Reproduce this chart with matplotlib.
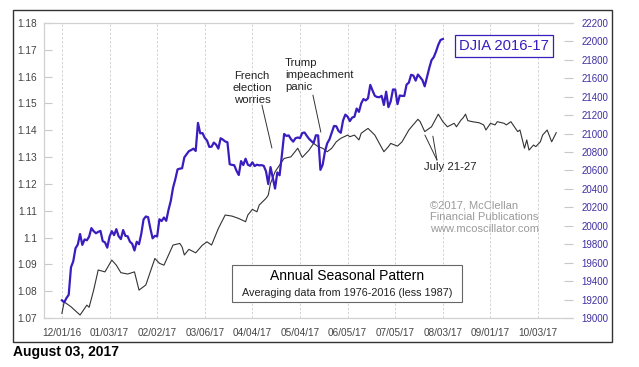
import matplotlib
matplotlib.use('Agg')
import matplotlib.pyplot as plt
from matplotlib.patches import Rectangle

plt.rcParams['font.family'] = ['Liberation Sans', 'DejaVu Sans']

# DJIA daily closes, 12/01/16 .. 08/03/17 (one value per trading day)
djia = [19192, 19170, 19216, 19252, 19550, 19615, 19757, 19796, 19911, 19793,
        19852, 19843, 19883, 19975, 19942, 19919, 19934, 19945, 19834, 19820,
        19763,
        19882, 19942, 19899, 19964, 19887, 19856, 19954, 19891, 19886, 19827,
        19805, 19732, 19827, 19800, 19913, 20069, 20101, 20094, 19971, 19864,
        19891, 19885, 20071, 20052, 20090, 20054, 20172, 20269, 20412, 20504,
        20612, 20620, 20624, 20743, 20776, 20810, 20822, 20837, 20812,
        21116, 21003, 21006, 20954, 20925, 20856, 20858, 20903, 20881, 20837,
        20950, 20935, 20915, 20906, 20668, 20661, 20657, 20597, 20551, 20702,
        20659, 20728, 20663,
        20650, 20689, 20648, 20663, 20656, 20658, 20651, 20592, 20453, 20637,
        20523, 20404, 20579, 20548, 20764, 20996, 20975, 20981, 20941,
        20913, 20950, 20958, 20951, 21007, 21012, 20976, 20943, 20919, 20897,
        20982, 20980, 20607, 20663, 20805, 20895, 20938, 21012, 21083, 21080,
        21029, 21009,
        21144, 21206, 21184, 21136, 21174, 21183, 21272, 21236, 21328, 21375,
        21360, 21384, 21529, 21467, 21410, 21397, 21395, 21410, 21311, 21455,
        21287, 21350,
        21479, 21478, 21320, 21414, 21409, 21409, 21532, 21553, 21638, 21630,
        21575, 21641, 21612, 21580, 21513, 21613, 21711, 21797, 21830, 21891,
        21964, 22016, 22026]

# annual seasonal pattern (trading day offset from 12/01, index value)
seasonal_day = [0, 1, 4, 8, 11, 12, 14, 16, 19, 22, 24, 26, 29, 32, 34, 37,
                41, 43, 45, 49, 52, 53, 54, 56, 59, 62, 64, 66, 69, 72, 75,
                78, 81, 82, 84, 86, 87, 90, 91, 92, 94, 97, 98, 101, 104, 106,
                109, 111, 113, 115, 117, 119, 121, 123, 126, 127, 129, 131,
                132, 135, 138, 142, 144, 145, 148, 150, 153, 157, 158, 160,
                162, 163, 166, 168, 170, 173, 174, 176, 177, 178, 179, 181,
                184, 186, 187, 189, 191, 192, 195, 196, 198, 201, 202, 204,
                205, 206, 208, 209, 211, 212, 214, 216, 218]
seasonal_val = [1.0717, 1.0760, 1.0742, 1.0711, 1.0748, 1.0740, 1.0804, 1.0879,
                1.0872, 1.0916, 1.0897, 1.0869, 1.0864, 1.0872, 1.0804, 1.0823,
                1.0922, 1.0904, 1.0897, 1.0972, 1.0978, 1.0965, 1.0935, 1.0956,
                1.0943, 1.0972, 1.0984, 1.0972, 1.1034, 1.1084, 1.1080, 1.1071,
                1.1059, 1.1084, 1.1105, 1.1096, 1.1121, 1.1146, 1.1158, 1.1202,
                1.1245, 1.1283, 1.1295, 1.1301, 1.1333, 1.1299, 1.1326, 1.1351,
                1.1339, 1.1333, 1.1320, 1.1333, 1.1357, 1.1370, 1.1382, 1.1376,
                1.1382, 1.1364, 1.1389, 1.1407, 1.1382, 1.1320, 1.1339, 1.1351,
                1.1341, 1.1357, 1.1401, 1.1441, 1.1432, 1.1395, 1.1407, 1.1413,
                1.1460, 1.1432, 1.1413, 1.1426, 1.1413, 1.1438, 1.1447, 1.1460,
                1.1436, 1.1432, 1.1428, 1.1420, 1.1401, 1.1426, 1.1420, 1.1432,
                1.1426, 1.1420, 1.1432, 1.1395, 1.1401, 1.1333, 1.1364, 1.1326,
                1.1345, 1.1339, 1.1357, 1.1382, 1.1401, 1.1357, 1.1391]

date_labels = ['12/01/16', '01/03/17', '02/02/17', '03/06/17', '04/04/17',
               '05/04/17', '06/05/17', '07/05/17', '08/03/17', '09/01/17',
               '10/03/17']
left_ticks = [1.07, 1.08, 1.09, 1.1, 1.11, 1.12, 1.13, 1.14, 1.15, 1.16, 1.17, 1.18]
right_ticks = list(range(19000, 22201, 200))

blue = '#3a1cbf'
grey_txt = '#444444'

fig = plt.figure(figsize=(6.39, 3.67), dpi=100)
W, H = 639, 367
ax = fig.add_axes([44 / W, 1 - 318 / H, (573 - 44) / W, (318 - 23) / H])
ax2 = ax.twinx()

# outer frame + date stamp
fig.patches.append(Rectangle((13 / W, 1 - 342 / H), (612 - 13) / W, (342 - 10) / H,
                             transform=fig.transFigure, fill=False,
                             edgecolor='#333333', linewidth=1.0))
fig.text(13 / W, 1 - 352 / H, 'August 03, 2017', fontsize=10, fontweight='bold',
         ha='left', va='center')

ax.plot(seasonal_day, seasonal_val, color='#333333', lw=0.8, zorder=2)
ax2.plot(range(len(djia)), djia, color=blue, lw=1.6, zorder=3)

ax.set_xlim(-7.9, 225.4)
ax.set_ylim(1.07, 1.18)
ax2.set_ylim(19000, 22200)

xt = [21 * i for i in range(len(date_labels))]
ax.set_xticks(xt)
ax.set_xticklabels(date_labels, fontsize=7.2, color=grey_txt)
ax.tick_params(axis='x', length=0, pad=7)
ax.grid(axis='x', color='#cfcfcf', linestyle=(0, (3, 2)), linewidth=0.6)

ax.set_yticks(left_ticks)
ax.set_yticklabels([f'{v:g}' for v in left_ticks], fontsize=7.3, color=grey_txt)
ax.tick_params(axis='y', direction='in', length=6, color='#c8c8c8', pad=5)
ax2.set_yticks(right_ticks)
ax2.set_yticklabels([str(v) for v in right_ticks], fontsize=7, color='#3f2fa0')
ax2.tick_params(axis='y', direction='in', length=6.5, color='#c8c8c8', pad=6)

for a in (ax, ax2):
    for s in a.spines.values():
        s.set_color('#d0d0d0')
        s.set_linewidth(0.8)
    a.spines['right'].set_visible(False)

# annotations
lc = '#333333'
tc = '#222222'


def pointer(x0, y0, x1, y1):
    ax.annotate('', xy=(x1, y1), xytext=(x0, y0),
                arrowprops=dict(arrowstyle='-', color=lc, lw=0.7, shrinkA=0, shrinkB=0))


ax.text(83.8, 1.1558, 'French\nelection\nworries', ha='center', va='center',
        fontsize=8.2, color=tc, linespacing=1.2)
pointer(88.2, 1.1494, 92.6, 1.1334)

ax.text(98.4, 1.1606, 'Trump\nimpeachment\npanic', ha='left', va='center',
        fontsize=8.2, color=tc, linespacing=1.25)
pointer(110.7, 1.1531, 114.2, 1.1393)

pointer(165.4, 1.1289, 160.1, 1.1382)
pointer(165.4, 1.1289, 163.6, 1.1378)
ax.text(171.1, 1.1263, 'July 21-27', ha='center', va='center', fontsize=8.2, color=tc)

ax.text((504 - 44) / 529, (318 - 46) / 295, 'DJIA 2016-17', transform=ax.transAxes,
        ha='center', va='center', fontsize=10.6, color=blue, zorder=5,
        bbox=dict(boxstyle='square,pad=0.3', facecolor='white', edgecolor=blue, lw=0.9))

ax.text((430 - 44) / 529, (318 - 200) / 295,
        '\u00a92017, McClellan\nFinancial Publications\nwww.mcoscillator.com',
        transform=ax.transAxes, ha='left', va='top', fontsize=8, color='#9a9a9a',
        linespacing=1.25)

ax.add_patch(Rectangle(((232 - 44) / 529, (318 - 302) / 295), 230 / 529, 37 / 295,
                       transform=ax.transAxes, facecolor='white', edgecolor='#666666',
                       lw=0.8, zorder=5))
ax.text((347 - 44) / 529, (318 - 276) / 295, 'Annual Seasonal Pattern',
        transform=ax.transAxes, ha='center', va='center', fontsize=10, zorder=6)
ax.text((347 - 44) / 529, (318 - 293) / 295, 'Averaging data from 1976-2016 (less 1987)',
        transform=ax.transAxes, ha='center', va='center', fontsize=7.8, color=tc,
        zorder=6)

fig.savefig('out.png', dpi=100)
